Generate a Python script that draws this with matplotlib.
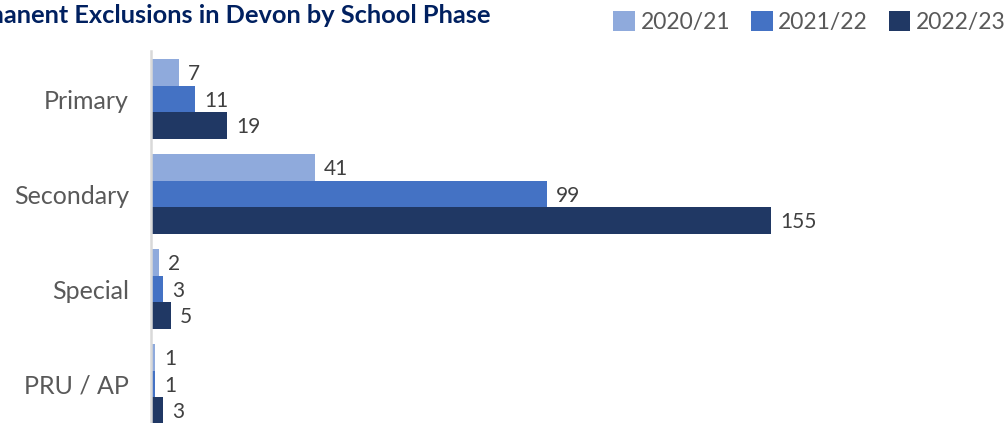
import matplotlib
matplotlib.use("Agg")
import matplotlib.pyplot as plt
import numpy as np
from matplotlib.patches import Patch

plt.rcParams['font.family'] = ['Lato', 'DejaVu Sans']

# data
phases = ['Primary', 'Secondary', 'Special', 'PRU / AP']
years = ['2020/21', '2021/22', '2022/23']
v2021 = [7, 41, 2, 1]
v2122 = [11, 99, 3, 1]
v2223 = [19, 155, 5, 3]
colors = ['#8FAADC', '#4472C4', '#203864']

W, H = 1007, 423
fig = plt.figure(figsize=(W / 100, H / 100), dpi=100)
ax = fig.add_axes([151 / W, 1 - 431.5 / H, (W - 151) / W, 380 / H])

y = np.arange(len(phases))
bh = 0.279
series = [v2021, v2122, v2223]
for i, (vals, c) in enumerate(zip(series, colors)):
    pos = y + (i - 1) * bh
    ax.barh(pos, vals, height=bh, color=c, zorder=2)
    for p, v in zip(pos, vals):
        ax.text(v + 2.2, p + 0.02, str(v), va='center', ha='left',
                fontsize=15, color='#404040')

ax.set_xlim(0, (W - 151) / 4.0)
ax.set_ylim(3.5, -0.5)
ax.set_xticks([])
ax.set_yticks(y)
ax.set_yticklabels(phases, fontsize=18, color='#595959')
ax.tick_params(axis='y', length=0, pad=16)
for s in ['top', 'right', 'bottom']:
    ax.spines[s].set_visible(False)
ax.spines['left'].set_color('#D9D9D9')
ax.spines['left'].set_linewidth(1.8)

# title is cropped on the left in the original
fig.text(490 / W, 1 - 23 / H, 'Permanent Exclusions in Devon by School Phase',
         ha='right', va='baseline', fontsize=18.3, fontweight='bold', color='#002060')

handles = [Patch(facecolor=c, edgecolor='none') for c in colors]
fig.legend(handles, years, loc='upper right', bbox_to_anchor=(1022 / W, 1 + 5 / H),
           ncol=3, frameon=False, fontsize=16.5, labelcolor='#595959',
           handlelength=0.95, handleheight=0.95, handletextpad=0.25, columnspacing=0.9,
           borderaxespad=0.3)

fig.savefig('out.png', dpi=100)
